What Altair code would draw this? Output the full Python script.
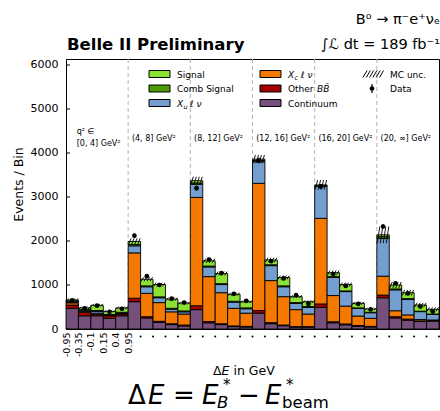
import math
import altair as alt
import pandas as pd

# ΔE bin edges (GeV) repeated in each q² bin, and the q² bin names
de_edges = ["-0.95", "-0.35", "-0.1", "0.15", "0.4", "0.95"]
q2_bins = ["[0, 4] GeV²", "(4, 8] GeV²", "(8, 12] GeV²",
           "(12, 16] GeV²", "(16, 20] GeV²", "(20, ∞] GeV²"]

# Expected yields per bin for each component (events / bin)
continuum = [470, 300, 300, 240, 300,
             620, 250, 150, 100, 70,
             440, 140, 100, 55, 45,
             360, 120, 75, 45, 40,
             490, 140, 95, 60, 45,
             710, 250, 200, 170, 180]
other_bb = [75, 80, 30, 60, 40,
            80, 30, 25, 20, 20,
            90, 30, 20, 15, 15,
            60, 25, 15, 10, 15,
            80, 25, 20, 20, 15,
            60, 30, 25, 15, 10]
xc_lnu = [50, 20, 30, 10, 10,
          1030, 530, 425, 270, 250,
          2460, 1020, 705, 400, 300,
          2890, 955, 645, 385, 285,
          1945, 595, 405, 215, 183,
          430, 135, 95, 30, 15]
xu_lnu = [20, 30, 40, 10, 10,
          160, 150, 110, 60, 50,
          300, 220, 185, 140, 100,
          490, 340, 225, 140, 150,
          725, 415, 330, 175, 127,
          860, 475, 350, 180, 128]
comb_signal = [20, 10, 20, 10, 20,
               30, 20, 20, 20, 20,
               30, 20, 20, 20, 20,
               30, 20, 20, 20, 20,
               15, 15, 15, 10, 10,
               40, 20, 20, 10, 7]
signal = [25, 40, 120, 70, 100,
          70, 150, 280, 210, 180,
          50, 120, 230, 160, 140,
          30, 110, 190, 135, 110,
          20, 90, 145, 105, 75,
          40, 90, 135, 140, 107]
mc_unc = [35, 30, 30, 28, 30,
          70, 45, 40, 35, 32,
          90, 50, 45, 35, 30,
          95, 50, 45, 35, 32,
          110, 50, 45, 32, 28,
          190, 70, 65, 50, 45]
data_counts = [650, 470, 530, 390, 460,
               2120, 1200, 1000, 690, 600,
               3200, 1580, 1270, 800, 640,
               3830, 1540, 1150, 770, 570,
               3240, 1250, 980, 570, 445,
               2330, 1040, 810, 510, 395]

components = ["Continuum", "Other BB̄", "Xc ℓ ν", "Xu ℓ ν", "Comb Signal", "Signal"]
series = [continuum, other_bb, xc_lnu, xu_lnu, comb_signal, signal]
colors = ["#75507b", "#a40000", "#f57900", "#729fcf", "#4e9a06", "#8ae234"]

n_bins = len(data_counts)
y_max = 6136

# stacked segments
seg_rows = []
totals = []
for i in range(n_bins):
    base = 0
    for name, vals in zip(components, series):
        seg_rows.append({"lo": i, "hi": i + 1, "y0": base, "y1": base + vals[i], "comp": name})
        base += vals[i]
    totals.append(base)
segs = pd.DataFrame(seg_rows)

# hatch strokes for the MC uncertainty band
hatch_rows = []
for i in range(n_bins):
    lo, hi = totals[i] - mc_unc[i], totals[i] + mc_unc[i]
    for k in range(4):
        xs = i + 0.04 + 0.24 * k
        hatch_rows.append({"xs": xs, "xe": xs + 0.2, "ys": lo, "ye": hi})
hatch = pd.DataFrame(hatch_rows)

pts = pd.DataFrame({
    "xc": [i + 0.5 for i in range(n_bins)],
    "n": data_counts,
    "elo": [v - math.sqrt(v) for v in data_counts],
    "ehi": [v + math.sqrt(v) for v in data_counts],
})

FONT = "DejaVu Sans"
edge_list = "[" + ",".join("'" + e + "'" for e in de_edges) + "]"

x_scale = alt.Scale(domain=[0, n_bins], nice=False, zero=False)
y_scale = alt.Scale(domain=[0, y_max], nice=False)

x_axis = alt.Axis(values=list(range(len(de_edges))),
                  labelExpr=edge_list + "[datum.value]",
                  labelAngle=270, labelFontSize=9.5, labelFont=FONT, labelColor="black",
                  labelPadding=3, labelOverlap=False, labelFlush=False,
                  ticks=False, tickSize=0, grid=False, title=None,
                  domainColor="black", domainWidth=1)
y_axis = alt.Axis(values=[0, 1000, 2000, 3000, 4000, 5000, 6000], format="d",
                  labelFontSize=11, labelFont=FONT, labelColor="black", labelPadding=8,
                  ticks=False, tickSize=0, grid=False,
                  title="Events / Bin", titleFont=FONT, titleFontSize=12.5,
                  titleFontWeight="normal", titleColor="black",
                  titleX=-48, titleY=125, titleAngle=270, titleAlign="center",
                  titleBaseline="middle",
                  domainColor="black", domainWidth=1)


def X(field):
    return alt.X(field, scale=x_scale, axis=x_axis)


def Y(field):
    return alt.Y(field, scale=y_scale, axis=y_axis)


one = pd.DataFrame({"k": [0]})

group_lines = alt.Chart(pd.DataFrame({"x": [5, 10, 15, 20, 25]})).mark_rule(
    color="#b4b4b4", strokeDash=[4, 3], strokeWidth=1
).encode(x=X("x:Q"), y=alt.value(0), y2=alt.value(270))

bars = alt.Chart(segs).mark_rect(stroke="black", strokeWidth=0.9).encode(
    x=X("lo:Q"),
    x2="hi:Q",
    y=Y("y0:Q"),
    y2="y1:Q",
    fill=alt.Fill("comp:N", scale=alt.Scale(domain=components, range=colors), legend=None),
)

hatch_layer = alt.Chart(hatch).mark_rule(color="black", strokeWidth=0.9).encode(
    x=X("xs:Q"), x2="xe:Q", y=Y("ys:Q"), y2="ye:Q")

err = alt.Chart(pts).mark_rule(color="black", strokeWidth=1.2).encode(
    x=X("xc:Q"), y=Y("elo:Q"), y2="ehi:Q")
dots = alt.Chart(pts).mark_circle(color="black", size=22, opacity=1).encode(
    x=X("xc:Q"), y=Y("n:Q"))

ytick = alt.Chart(pd.DataFrame({"v": [0, 1000, 2000, 3000, 4000, 5000, 6000]})).mark_rule(
    color="black").encode(y=Y("v:Q"), x=alt.value(0), x2=alt.value(4))

# unlabelled bin edges of the later q² bins are marked with a small dot
edge_dots = alt.Chart(pd.DataFrame({"x": list(range(len(de_edges), n_bins + 1))})).mark_circle(
    color="black", size=4, opacity=1).encode(x=X("x:Q"), y=alt.value(277.5))

q2_df = pd.DataFrame({
    "x": [0.86] + [5 * g + 0.3 for g in range(1, 6)],
    "y": [4205] + [4307] * 5,
    "t": q2_bins,
})
q2_text = alt.Chart(q2_df).mark_text(align="left", baseline="middle", fontSize=8, font=FONT,
                                     color="black").encode(
    x=X("x:Q"), y=Y("y:Q"), text="t:N")
q2_head = alt.Chart(pd.DataFrame({"x": [0.86], "y": [4477]})).mark_text(
    text="q² ∈", align="left", baseline="middle", fontSize=8, font=FONT, color="black"
).encode(x=X("x:Q"), y=Y("y:Q"))


def txt(t, x, y, size, style="normal", weight="normal", align="left"):
    return alt.Chart(one).mark_text(text=t, fontSize=size, fontStyle=style, fontWeight=weight,
                                    align=align, baseline="alphabetic", font=FONT,
                                    color="black").encode(x=alt.value(x), y=alt.value(y))


def patch(x0, x1, yc, color):
    return alt.Chart(one).mark_rect(fill=color, stroke="black", strokeWidth=1).encode(
        x=alt.value(x0), x2=alt.value(x1), y=alt.value(yc - 3.5), y2=alt.value(yc + 3.5))


annotations = [
    txt("Belle II Preliminary", 1, -9, 16.5, weight="bold"),
    txt("B⁰ → π⁻e⁺νₑ", 374, -35, 14.5, align="right"),
    txt("∫ℒ dt = 189 fb⁻¹", 374, -10, 14.5, align="right"),
]

# legend
rows_y = [15, 29.5, 44]
legend = [
    patch(83, 104, rows_y[0], colors[5]), txt("Signal", 111, rows_y[0] + 3.5, 9),
    patch(83, 104, rows_y[1], colors[4]), txt("Comb Signal", 111, rows_y[1] + 3.5, 9),
    patch(83, 104, rows_y[2], colors[3]),
    txt("X", 111, rows_y[2] + 3.5, 9, style="italic"),
    txt("u", 117.5, rows_y[2] + 5.5, 6.5, style="italic"),
    txt("ℓ ν", 124, rows_y[2] + 3.5, 9, style="italic"),
    patch(194, 215, rows_y[0], colors[2]),
    txt("X", 222, rows_y[0] + 3.5, 9, style="italic"),
    txt("c", 228.5, rows_y[0] + 5.5, 6.5, style="italic"),
    txt("ℓ ν", 235, rows_y[0] + 3.5, 9, style="italic"),
    patch(194, 215, rows_y[1], colors[1]),
    txt("Other", 222, rows_y[1] + 3.5, 9),
    txt("BB\u0304", 251, rows_y[1] + 3.5, 9, style="italic"),
    patch(194, 215, rows_y[2], colors[0]), txt("Continuum", 222, rows_y[2] + 3.5, 9),
    txt("MC unc.", 324, rows_y[0] + 3.5, 9),
    txt("Data", 324, rows_y[1] + 3.5, 9),
]
for k in range(6):
    xs = 297 + 3.3 * k
    legend.append(alt.Chart(one).mark_rule(color="black", strokeWidth=1).encode(
        x=alt.value(xs), x2=alt.value(xs + 4), y=alt.value(rows_y[0] + 3.5),
        y2=alt.value(rows_y[0] - 3.5)))
legend.append(alt.Chart(one).mark_rule(color="black", strokeWidth=1.2).encode(
    x=alt.value(306), y=alt.value(rows_y[1] - 4.5), y2=alt.value(rows_y[1] + 4.5)))
legend.append(alt.Chart(one).mark_circle(color="black", size=22, opacity=1).encode(
    x=alt.value(306), y=alt.value(rows_y[1])))

# axis title and definition of ΔE below the plot
F = 26
S = 16.5
ST = 15
below = [
    txt("Δ", 147, 315.5, 12.5), txt("E", 155.5, 315.5, 12.5, style="italic"),
    txt("in GeV", 167.5, 315.5, 12.5),
    txt("Δ", 62, 345, F), txt("E", 82, 345, F, style="italic"),
    txt("=", 107, 345, F),
    txt("E", 136, 345, F, style="italic"),
    txt("*", 157, 331, ST), txt("B", 151, 349.2, S, style="italic"),
    txt("−", 172, 345, F),
    txt("E", 199, 345, F, style="italic"),
    txt("*", 220, 331, ST), txt("beam", 216, 349.2, S),
]

chart = alt.layer(
    group_lines, bars, hatch_layer, err, dots, ytick, edge_dots, q2_text, q2_head,
    *annotations, *legend, *below
).properties(
    width=373, height=270,
    padding={"left": 66, "top": 59, "right": 1, "bottom": 82},
    autosize="none", background="white",
).configure_view(stroke="black", strokeWidth=1)

chart.save("out.html", embed_options={"renderer": "svg", "actions": False})
